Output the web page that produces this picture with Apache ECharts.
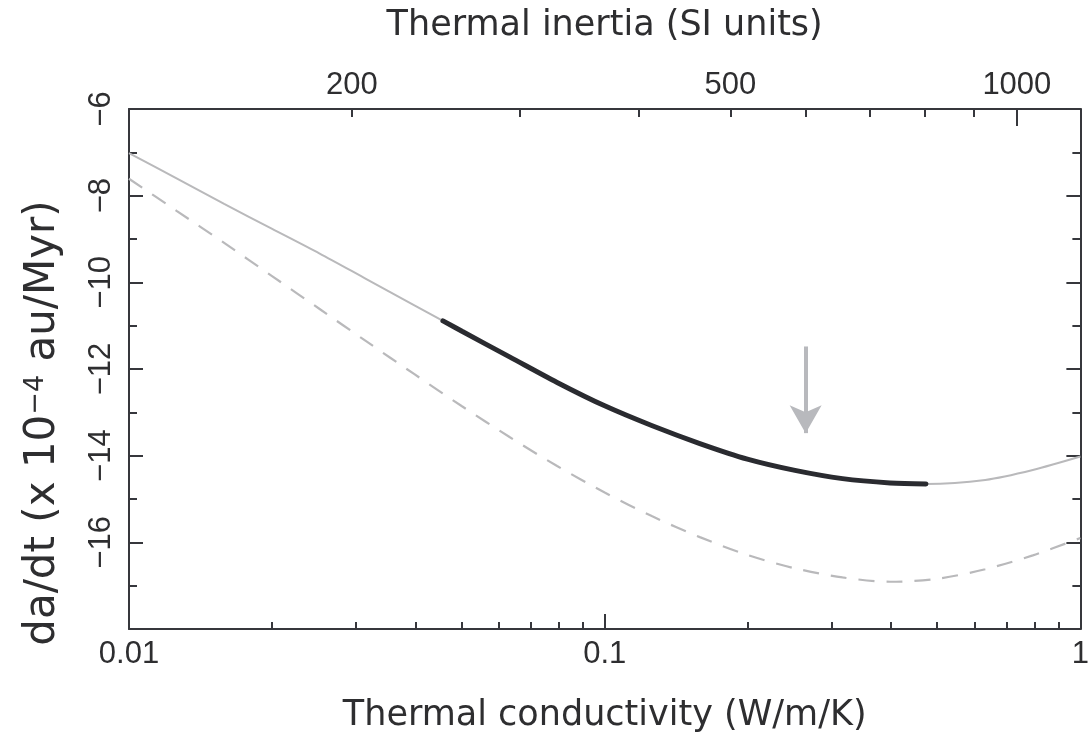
<!DOCTYPE html>
<html>
<head>
<meta charset="utf-8">
<script src="https://cdn.jsdelivr.net/npm/echarts@6/dist/echarts.min.js"></script>
<style>html,body{margin:0;padding:0;background:#fff}#c{width:1092px;height:738px}</style>
</head>
<body>
<div id="c"></div>
<script>
// ---- data ----
// full model curve (grey solid): thermal conductivity (W/m/K) vs da/dt (1e-4 au/Myr)
const condSolid = [0.01, 0.01259, 0.01585, 0.01995, 0.02512, 0.03162, 0.03981, 0.04571, 0.05012, 0.0631, 0.07943, 0.1, 0.1259, 0.1585, 0.1995, 0.2512, 0.3162, 0.3981, 0.4735, 0.631, 0.7943, 1.0];
const rateSolid = [-7.02, -7.60, -8.19, -8.76, -9.33, -9.93, -10.53, -10.89, -11.13, -11.72, -12.31, -12.85, -13.31, -13.72, -14.08, -14.34, -14.53, -14.63, -14.655, -14.56, -14.33, -14.02];
// admissible range (thick dark segment)
const condFit = [0.04571, 0.05012, 0.0631, 0.07943, 0.1, 0.1259, 0.1585, 0.1995, 0.2512, 0.3162, 0.3981, 0.4735];
const rateFit = [-10.89, -11.13, -11.72, -12.31, -12.85, -13.31, -13.72, -14.08, -14.34, -14.53, -14.63, -14.655];
// dashed curve
const condDashed = [0.01, 0.01259, 0.01585, 0.01995, 0.02512, 0.03162, 0.03981, 0.05012, 0.0631, 0.07943, 0.1, 0.1259, 0.1585, 0.1995, 0.2512, 0.3162, 0.3981, 0.5012, 0.631, 0.7943, 1.0];
const rateDashed = [-7.61, -8.35, -9.09, -9.85, -10.61, -11.37, -12.12, -12.86, -13.57, -14.24, -14.85, -15.40, -15.88, -16.29, -16.60, -16.81, -16.91, -16.84, -16.62, -16.30, -15.90];
// arrow marker
const arrowCond = 0.2645;
const arrowFrom = -11.48;
const arrowTo = -13.48;
// axes
const condRange = [0.01, 1];
const rateRange = [-18, -6];
const rateStep = 2;
const rhoC = 1.36e6; // thermal inertia = sqrt(K * rhoC)
const inertiaLabels = [200, 500, 1000];
const inertiaMinorTicks = [200, 300, 400, 500, 600, 700, 800, 900];
const inertiaMajorTicks = [1000];
const condMinorTicks = [0.02, 0.03, 0.04, 0.05, 0.06, 0.07, 0.08, 0.09, 0.2, 0.3, 0.4, 0.5, 0.6, 0.7, 0.8, 0.9];

const FONT = 'DejaVu Sans';
const NUMFONT = 'Liberation Sans';
const TXT = '#2e2e30';
const AX = '#36373c';
const GREY = '#b9b9bb';

const zip = (a, b) => a.map((v, i) => [v, b[i]]);
const lg = Math.log10;
const gMin = lg(Math.sqrt(condRange[0] * rhoC));
const gMax = lg(Math.sqrt(condRange[1] * rhoC));
const minus = s => String(s).replace('-', '\u2212');

const chart = echarts.init(document.getElementById('c'), null, {renderer: 'canvas'});
const axLine = {show: true, onZero: false, lineStyle: {color: AX, width: 2}};
const noLine = {show: false, onZero: false};

chart.setOption({
  animation: false,
  backgroundColor: '#fff',
  grid: {left: 129, right: 8, top: 109, bottom: 101, containLabel: false},
  xAxis: [
    { // 0: main log axis
      type: 'log', logBase: 10, min: condRange[0], max: condRange[1], position: 'bottom',
      axisLine: axLine,
      splitLine: {show: false},
      axisTick: {show: true, inside: true, length: 15, lineStyle: {color: AX, width: 2}},
      axisLabel: {show: true, margin: 10, fontFamily: NUMFONT, fontSize: 31, color: TXT,
        formatter: v => String(+Number(v).toPrecision(3))},
      name: 'Thermal conductivity (W/m/K)', nameLocation: 'middle', nameGap: 69,
      nameTextStyle: {fontFamily: FONT, fontSize: 35, color: TXT}
    },
    { // 1: minor ticks bottom (log10 space)
      type: 'value', min: lg(condRange[0]), max: lg(condRange[1]), position: 'bottom',
      axisLine: noLine, splitLine: {show: false}, axisLabel: {show: false},
      axisTick: {show: true, inside: true, length: 7, customValues: condMinorTicks.map(lg), lineStyle: {color: AX, width: 2}}
    },
    { // 2: top thermal inertia axis (log10 space)
      type: 'value', min: gMin, max: gMax, position: 'top',
      axisLine: axLine,
      splitLine: {show: false},
      axisTick: {show: true, inside: true, length: 8, customValues: inertiaMinorTicks.map(lg), lineStyle: {color: AX, width: 2}},
      axisLabel: {show: true, margin: 8, fontFamily: NUMFONT, fontSize: 31, color: TXT,
        customValues: inertiaLabels.map(lg), formatter: v => String(Math.round(Math.pow(10, v)))},
      name: 'Thermal inertia (SI units)', nameLocation: 'middle', nameGap: 66,
      nameTextStyle: {fontFamily: FONT, fontSize: 35, color: TXT}
    },
    { // 3: long tick at 1000
      type: 'value', min: gMin, max: gMax, position: 'top',
      axisLine: noLine, splitLine: {show: false}, axisLabel: {show: false},
      axisTick: {show: true, inside: true, length: 17, customValues: inertiaMajorTicks.map(lg), lineStyle: {color: AX, width: 2}}
    }
  ],
  yAxis: [
    {
      type: 'value', min: rateRange[0], max: rateRange[1], interval: rateStep, position: 'left',
      axisLine: axLine,
      splitLine: {show: false},
      axisTick: {show: true, inside: true, length: 14, lineStyle: {color: AX, width: 2}},
      minorTick: {show: true, splitNumber: 2, length: 8, lineStyle: {color: AX, width: 2}},
      axisLabel: {show: true, rotate: 90, margin: 12, fontFamily: NUMFONT, fontSize: 31, color: TXT,
        formatter: v => v === rateRange[0] ? '' : minus(v)},
      name: '{t|da/dt (x 10}{s|\u22124}{t| au/Myr)}', nameLocation: 'middle', nameGap: 65, nameRotate: 90,
      nameTextStyle: {fontFamily: FONT, fontSize: 42, color: TXT, padding: [0, 108, 0, 0],
        rich: {t: {fontFamily: FONT, fontSize: 42, color: TXT}, s: {fontFamily: FONT, fontSize: 27, color: TXT, verticalAlign: 'top'}}}
    },
    {
      type: 'value', min: rateRange[0], max: rateRange[1], interval: rateStep, position: 'right',
      axisLine: axLine,
      splitLine: {show: false},
      axisTick: {show: true, inside: true, length: 14, lineStyle: {color: AX, width: 2}},
      minorTick: {show: true, splitNumber: 2, length: 8, lineStyle: {color: AX, width: 2}},
      axisLabel: {show: false}
    }
  ],
  series: [
    {
      type: 'line', xAxisIndex: 0, yAxisIndex: 0, data: zip(condDashed, rateDashed),
      smooth: 0.3, showSymbol: false, symbol: 'none', silent: true,
      lineStyle: {color: GREY, width: 2.2, type: [16, 12]}, z: 2
    },
    {
      type: 'line', xAxisIndex: 0, yAxisIndex: 0, data: zip(condSolid, rateSolid),
      smooth: 0.3, showSymbol: false, symbol: 'none', silent: true,
      lineStyle: {color: GREY, width: 2}, z: 3,
      markLine: {
        silent: true, animation: false, symbol: ['none', 'arrow'], symbolSize: [24, 28],
        label: {show: false},
        lineStyle: {color: '#b8b9bd', width: 4, type: 'solid'},
        data: [[{coord: [arrowCond, arrowFrom]}, {coord: [arrowCond, arrowTo]}]]
      }
    },
    {
      type: 'line', xAxisIndex: 0, yAxisIndex: 0, data: zip(condFit, rateFit),
      smooth: 0.3, showSymbol: false, symbol: 'none', silent: true,
      lineStyle: {color: '#2a2b30', width: 5, cap: 'round'}, z: 4
    }
  ]
});
</script>
</body>
</html>
